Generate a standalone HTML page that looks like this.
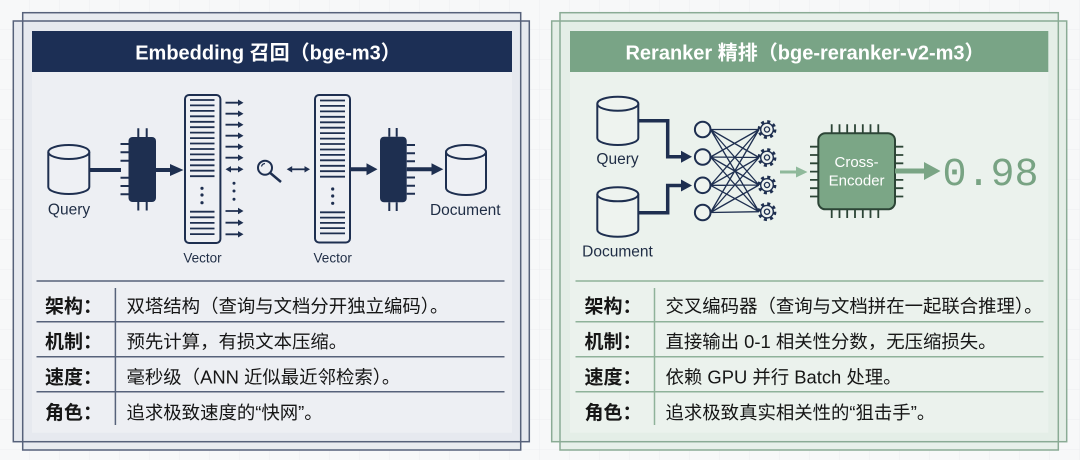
<!DOCTYPE html>
<html>
<head>
<meta charset="utf-8">
<style>
html,body{margin:0;padding:0;background:#f7f8f9;}
svg{display:block;}
text{font-family:"Liberation Sans","Noto Sans CJK SC",sans-serif;}
.mono{font-family:"Liberation Mono","DejaVu Sans Mono",monospace;}
</style>
</head>
<body>
<svg width="1080" height="460" viewBox="0 0 1080 460" xmlns="http://www.w3.org/2000/svg">
<defs>
<pattern id="grid" width="30" height="30" patternUnits="userSpaceOnUse">
<path d="M30 0V30M0 30H30" fill="none" stroke="#eceef1" stroke-width="1"/>
</pattern>
</defs>
<rect x="0" y="0" width="1080" height="460" fill="#f7f8f9"/>
<rect x="0" y="0" width="1080" height="460" fill="url(#grid)"/>

<!-- ================= LEFT PANEL ================= -->
<rect x="22.7" y="12.7" width="498" height="437.3" fill="#e8ebf0"/>
<rect x="13.3" y="21" width="516" height="420.7" fill="#e6e9ef"/>
<rect x="22.7" y="12.7" width="498" height="437.3" fill="none" stroke="#56617a" stroke-width="1.5"/>
<rect x="13.3" y="21" width="516" height="420.7" fill="none" stroke="#56617a" stroke-width="1.5"/>
<rect x="32" y="31" width="480" height="401.7" fill="#edeff3"/>
<rect x="32" y="31" width="480" height="41" fill="#1c2f55"/>
<text x="268" y="59.5" text-anchor="middle" font-size="20" font-weight="bold" fill="#ffffff">Embedding 召回（bge-m3）</text>

<!-- Query cylinder -->
<g fill="#eef0f4" stroke="#1e2f50" stroke-width="2">
<path d="M48.3,152 L48.3,187 A20.5,7 0 0 0 89.3,187 L89.3,152"/>
<ellipse cx="68.8" cy="152" rx="20.5" ry="7"/>
</g>
<text x="69" y="214.5" text-anchor="middle" font-size="15.5" fill="#1f2d45">Query</text>
<line x1="89.3" y1="170" x2="121" y2="170" stroke="#1e2f50" stroke-width="4"/>

<!-- chip 1 -->
<g stroke="#1e2f50" stroke-width="2">
<path d="M120.5 144H128.5M120.5 152.3H128.5M120.5 160.7H128.5M120.5 177.7H128.5M120.5 186H128.5M120.5 194.3H128.5"/>
<path d="M138.3 128.3V137M146.7 128.3V137M138.3 202V210.5M146.7 202V210.5"/>
</g>
<rect x="128.5" y="137" width="27.5" height="65" rx="4" fill="#1e2f50"/>
<line x1="156" y1="170" x2="172" y2="170" stroke="#1e2f50" stroke-width="4"/>
<polygon points="170,164 183.5,170 170,176" fill="#1e2f50"/>

<!-- vector 1 -->
<rect x="185" y="95" width="35.4" height="148" rx="4" fill="#eef0f4" stroke="#1e2f50" stroke-width="2"/>
<path d="M190 100H214.5M190 105.4H214.5M190 110.9H214.5M190 116.3H214.5M190 121.8H214.5M190 127.2H214.5M190 132.6H214.5M190 138.1H214.5M190 143.5H214.5M190 149H214.5M190 154.4H214.5M190 159.8H214.5M190 165.3H214.5M190 170.7H214.5M190 176.2H214.5M190 211.7H214.5M190 217.3H214.5M190 222.9H214.5M190 228.5H214.5M190 234.1H214.5" stroke="#1e2f50" stroke-width="1.8"/>
<g fill="#1e2f50">
<circle cx="202" cy="188.3" r="1.6"/><circle cx="202" cy="195" r="1.6"/><circle cx="202" cy="202.7" r="1.6"/>
</g>

<!-- small arrows -->
<g stroke="#1e2f50" stroke-width="1.8">
<path d="M225.5 102.7H239M225.5 113.7H239M225.5 124.7H239M225.5 135.7H239M225.5 146.7H239M225.5 157.7H239M229.5 169.3H239M225.5 211H239M225.5 222.7H239M225.5 234.3H239"/>
</g>
<g fill="#1e2f50">
<polygon points="238,99.5 243.5,102.7 238,105.9"/>
<polygon points="238,110.5 243.5,113.7 238,116.9"/>
<polygon points="238,121.5 243.5,124.7 238,127.9"/>
<polygon points="238,132.5 243.5,135.7 238,138.9"/>
<polygon points="238,143.5 243.5,146.7 238,149.9"/>
<polygon points="238,154.5 243.5,157.7 238,160.9"/>
<polygon points="238,166.1 243.5,169.3 238,172.5"/>
<polygon points="231,166.1 225.5,169.3 231,172.5"/>
<polygon points="238,207.8 243.5,211 238,214.2"/>
<polygon points="238,219.5 243.5,222.7 238,225.9"/>
<polygon points="238,231.1 243.5,234.3 238,237.5"/>
<circle cx="234" cy="183.3" r="1.5"/><circle cx="234" cy="191" r="1.5"/><circle cx="234" cy="199.3" r="1.5"/>
</g>

<!-- magnifier -->
<circle cx="265" cy="167.7" r="7" fill="none" stroke="#1e2f50" stroke-width="2"/>
<path d="M261.5,166.5 A4,4 0 0 1 265,163.5" fill="none" stroke="#1e2f50" stroke-width="1.2"/>
<line x1="270.3" y1="173" x2="281" y2="182" stroke="#1e2f50" stroke-width="2.5"/>

<!-- double arrow 2 -->
<line x1="291" y1="169.3" x2="306" y2="169.3" stroke="#1e2f50" stroke-width="1.8"/>
<polygon points="292.2,166.1 286.7,169.3 292.2,172.5" fill="#1e2f50"/>
<polygon points="304.5,166.1 310,169.3 304.5,172.5" fill="#1e2f50"/>

<!-- vector 2 -->
<rect x="315" y="95" width="35" height="147.5" rx="4" fill="#eef0f4" stroke="#1e2f50" stroke-width="2"/>
<path d="M320 100.5H345M320 105.9H345M320 111.4H345M320 116.8H345M320 122.3H345M320 127.7H345M320 133.1H345M320 138.6H345M320 144H345M320 149.5H345M320 154.9H345M320 160.3H345M320 165.8H345M320 171.2H345M320 176.7H345M320 212.3H345M320 217.6H345M320 222.9H345M320 228.1H345M320 233.4H345" stroke="#1e2f50" stroke-width="1.8"/>
<g fill="#1e2f50">
<circle cx="332.7" cy="189" r="1.6"/><circle cx="332.7" cy="196" r="1.6"/><circle cx="332.7" cy="203.3" r="1.6"/>
</g>
<line x1="350" y1="169.3" x2="368" y2="169.3" stroke="#1e2f50" stroke-width="4"/>
<polygon points="366.5,163.3 377.5,169.3 366.5,175.3" fill="#1e2f50"/>

<!-- chip 2 -->
<g stroke="#1e2f50" stroke-width="2">
<path d="M406.7 145H415M406.7 153.2H415M406.7 161.3H415M406.7 177.5H415M406.7 185.7H415M406.7 193.8H415"/>
<path d="M389.3 128V136.7M396.7 128V136.7M389.3 202.3V211M396.7 202.3V211"/>
</g>
<rect x="380" y="136.7" width="26.7" height="65.6" rx="4" fill="#1e2f50"/>
<line x1="406.7" y1="169.3" x2="433" y2="169.3" stroke="#1e2f50" stroke-width="4"/>
<polygon points="431.5,163.3 443.3,169.3 431.5,175.3" fill="#1e2f50"/>

<!-- Document cylinder -->
<g fill="#eef0f4" stroke="#1e2f50" stroke-width="2">
<path d="M446,152 L446,188 A20,7 0 0 0 486,188 L486,152"/>
<ellipse cx="466" cy="152" rx="20" ry="7"/>
</g>
<text x="465.3" y="215" text-anchor="middle" font-size="15.5" fill="#1f2d45">Document</text>
<text x="202.5" y="262.5" text-anchor="middle" font-size="13.5" fill="#1f2d45">Vector</text>
<text x="332.7" y="262.5" text-anchor="middle" font-size="13.5" fill="#1f2d45">Vector</text>

<!-- left table -->
<g stroke="#56627a" stroke-width="1.5">
<line x1="36.5" y1="281" x2="504.5" y2="281"/>
<line x1="36.5" y1="321.7" x2="504.5" y2="321.7"/>
<line x1="36.5" y1="356.7" x2="504.5" y2="356.7"/>
<line x1="36.5" y1="391.7" x2="504.5" y2="391.7"/>
<line x1="115.4" y1="288" x2="115.4" y2="425"/>
</g>
<g font-size="19" fill="#161616" font-weight="bold">
<text x="45" y="312.5">架构：</text>
<text x="45" y="348">机制：</text>
<text x="45" y="383.5">速度：</text>
<text x="45" y="419">角色：</text>
</g>
<g font-size="18.4" fill="#161616">
<text x="126.5" y="312.5">双塔结构（查询与文档分开独立编码）。</text>
<text x="126.5" y="348">预先计算，有损文本压缩。</text>
<text x="126.5" y="383.5">毫秒级（ANN 近似最近邻检索）。</text>
<text x="126.5" y="419">追求极致速度的“快网”。</text>
</g>

<!-- ================= RIGHT PANEL ================= -->
<rect x="560" y="12.7" width="498.3" height="437.3" fill="#e7f0ea"/>
<rect x="551.7" y="21" width="515" height="420.7" fill="#e4eee7"/>
<rect x="560" y="12.7" width="498.3" height="437.3" fill="none" stroke="#8aab95" stroke-width="1.5"/>
<rect x="551.7" y="21" width="515" height="420.7" fill="none" stroke="#8aab95" stroke-width="1.5"/>
<rect x="570" y="31" width="478.3" height="401.7" fill="#ebf2ed"/>
<rect x="570" y="31" width="478.3" height="41" fill="#79a486"/>
<text x="805" y="59.5" text-anchor="middle" font-size="20" font-weight="bold" fill="#ffffff">Reranker 精排（bge-reranker-v2-m3）</text>

<!-- Query / Document cyl -->
<g fill="#eef3ef" stroke="#1e2f50" stroke-width="2">
<path d="M597.3,103.7 L597.3,138 A20.5,7 0 0 0 638.3,138 L638.3,103.7"/>
<ellipse cx="617.8" cy="103.7" rx="20.5" ry="7"/>
<path d="M597.3,194.3 L597.3,229.7 A20.5,7 0 0 0 638.3,229.7 L638.3,194.3"/>
<ellipse cx="617.8" cy="194.3" rx="20.5" ry="7"/>
</g>
<text x="617.5" y="164" text-anchor="middle" font-size="15.5" fill="#1f2d45">Query</text>
<text x="617.5" y="256.7" text-anchor="middle" font-size="15.5" fill="#1f2d45">Document</text>

<!-- connectors -->
<g fill="none" stroke="#1e2f50" stroke-width="3.5">
<polyline points="638.3,120.7 667.7,120.7 667.7,156.7 683,156.7"/>
<polyline points="638.3,212.7 667.7,212.7 667.7,185.5 683,185.5"/>
</g>
<polygon points="681,150.7 692,156.7 681,162.7" fill="#1e2f50"/>
<polygon points="681,179.5 692,185.5 681,191.5" fill="#1e2f50"/>

<!-- network lines -->
<g stroke="#1e2f50" stroke-width="1.3">
<path d="M710.5 129.5L759 129.5M710.5 129.5L759 157.5M710.5 129.5L759 185M710.5 129.5L759 211.7
M710.5 157L759 129.5M710.5 157L759 157.5M710.5 157L759 185M710.5 157L759 211.7
M710.5 185.3L759 129.5M710.5 185.3L759 157.5M710.5 185.3L759 185M710.5 185.3L759 211.7
M710.5 212.5L759 129.5M710.5 212.5L759 157.5M710.5 212.5L759 185M710.5 212.5L759 211.7"/>
</g>
<g fill="#eef3ef" stroke="#1e2f50" stroke-width="2">
<circle cx="702.7" cy="129.5" r="7.8"/>
<circle cx="702.7" cy="157" r="7.8"/>
<circle cx="702.7" cy="185.3" r="7.8"/>
<circle cx="702.7" cy="212.5" r="7.8"/>
</g>
<!-- gears -->
<g transform="translate(767,129.5)"><circle r="7.9" fill="none" stroke="#1e2f50" stroke-width="3" stroke-dasharray="3 3.2"/><circle r="6.3" fill="#eef3ef" stroke="#1e2f50" stroke-width="1.4"/><circle r="2.6" fill="none" stroke="#1e2f50" stroke-width="1.3"/></g>
<g transform="translate(767,157.5)"><circle r="7.9" fill="none" stroke="#1e2f50" stroke-width="3" stroke-dasharray="3 3.2"/><circle r="6.3" fill="#eef3ef" stroke="#1e2f50" stroke-width="1.4"/><circle r="2.6" fill="none" stroke="#1e2f50" stroke-width="1.3"/></g>
<g transform="translate(767,185)"><circle r="7.9" fill="none" stroke="#1e2f50" stroke-width="3" stroke-dasharray="3 3.2"/><circle r="6.3" fill="#eef3ef" stroke="#1e2f50" stroke-width="1.4"/><circle r="2.6" fill="none" stroke="#1e2f50" stroke-width="1.3"/></g>
<g transform="translate(767,211.7)"><circle r="7.9" fill="none" stroke="#1e2f50" stroke-width="3" stroke-dasharray="3 3.2"/><circle r="6.3" fill="#eef3ef" stroke="#1e2f50" stroke-width="1.4"/><circle r="2.6" fill="none" stroke="#1e2f50" stroke-width="1.3"/></g>

<!-- small green arrow -->
<line x1="780" y1="172" x2="797" y2="172" stroke="#8fb99b" stroke-width="3"/>
<polygon points="796,166.5 807.5,172 796,177.5" fill="#8fb99b"/>

<!-- cross encoder chip -->
<g stroke="#2c4536" stroke-width="1.8">
<path d="M831.7 124.3V133.3M839.5 124.3V133.3M847.2 124.3V133.3M855 124.3V133.3M862.8 124.3V133.3M870.5 124.3V133.3M878.3 124.3V133.3"/>
<path d="M831.7 209.3V218M839.5 209.3V218M847.2 209.3V218M855 209.3V218M862.8 209.3V218M870.5 209.3V218M878.3 209.3V218"/>
<path d="M810 146.7H818.3M810 155H818.3M810 163.3H818.3M810 171.6H818.3M810 179.9H818.3M810 188.2H818.3M810 196.5H818.3"/>
<path d="M895 146.7H903.3M895 155H903.3M895 163.3H903.3M895 179.9H903.3M895 188.2H903.3M895 196.5H903.3"/>
</g>
<rect x="818.3" y="133.3" width="76.7" height="76" rx="7" fill="#7ba686" stroke="#2c4536" stroke-width="2"/>
<text x="856.6" y="167" text-anchor="middle" font-size="15" fill="#ffffff">Cross-</text>
<text x="856.6" y="185.5" text-anchor="middle" font-size="15" fill="#ffffff">Encoder</text>

<!-- big arrow -->
<line x1="895" y1="171" x2="926" y2="171" stroke="#7aa585" stroke-width="5"/>
<polygon points="924,162 940.5,171 924,180" fill="#7aa585"/>
<text x="942.5" y="185" class="mono" font-size="40" fill="#78a383">0.98</text>

<!-- right table -->
<g stroke="#8fb29a" stroke-width="1.5">
<line x1="575.5" y1="281" x2="1043.5" y2="281"/>
<line x1="575.5" y1="321.7" x2="1043.5" y2="321.7"/>
<line x1="575.5" y1="356.7" x2="1043.5" y2="356.7"/>
<line x1="575.5" y1="391.7" x2="1043.5" y2="391.7"/>
<line x1="654.5" y1="288" x2="654.5" y2="425"/>
</g>
<g font-size="19" fill="#161616" font-weight="bold">
<text x="584.5" y="312.5">架构：</text>
<text x="584.5" y="348">机制：</text>
<text x="584.5" y="383.5">速度：</text>
<text x="584.5" y="419">角色：</text>
</g>
<g font-size="18.4" fill="#161616">
<text x="665.5" y="312.5">交叉编码器（查询与文档拼在一起联合推理）。</text>
<text x="665.5" y="348">直接输出 0-1 相关性分数，无压缩损失。</text>
<text x="665.5" y="383.5">依赖 GPU 并行 Batch 处理。</text>
<text x="665.5" y="419">追求极致真实相关性的“狙击手”。</text>
</g>
</svg>
</body>
</html>
